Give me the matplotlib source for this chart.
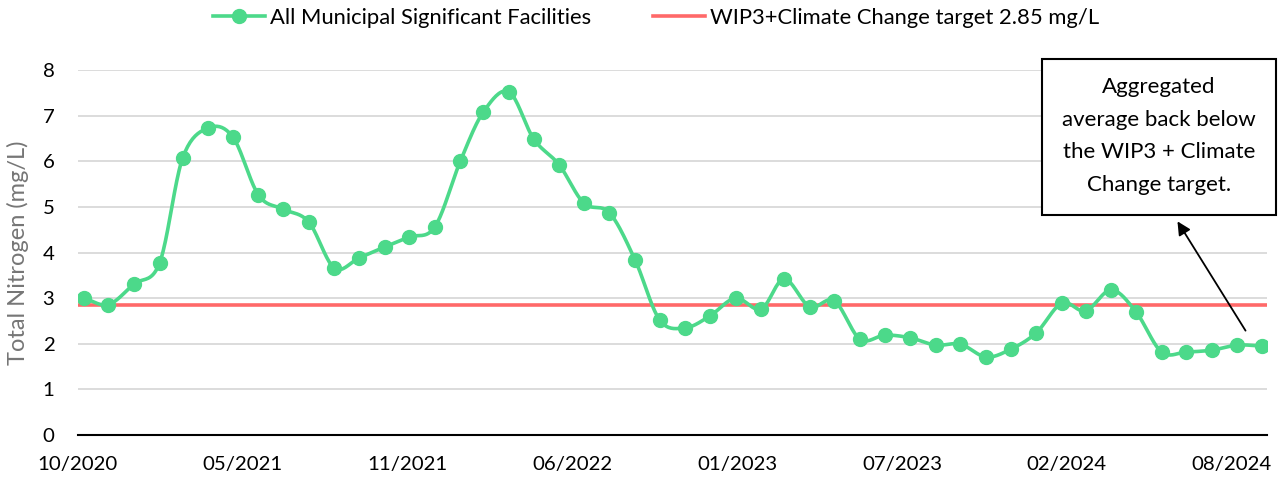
import numpy as np
import pandas as pd
import matplotlib
matplotlib.use("Agg")
import matplotlib.pyplot as plt
import matplotlib.dates as mdates
from matplotlib.patches import Rectangle

plt.rcParams['font.family'] = ['Lato', 'DejaVu Sans']

# monthly aggregated averages, month-end dates
dates = pd.date_range('2020-10-31', periods=48, freq='ME')
tn = [3.00, 2.86, 3.31, 3.77, 6.07, 6.73, 6.53, 5.26, 4.95, 4.67,
      3.66, 3.88, 4.12, 4.34, 4.56, 6.00, 7.08, 7.52, 6.49, 5.92,
      5.08, 4.87, 3.84, 2.52, 2.35, 2.61, 3.00, 2.76, 3.42, 2.81,
      2.94, 2.10, 2.19, 2.13, 1.97, 1.99, 1.71, 1.88, 2.24, 2.89,
      2.72, 3.18, 2.70, 1.82, 1.82, 1.86, 1.97, 1.95]
target = 2.85

series_label = 'All Municipal Significant Facilities'
target_label = 'WIP3+Climate Change target 2.85 mg/L'
note = 'Aggregated\naverage back below\nthe WIP3 + Climate\nChange target.'

green = '#4CD98A'
red = '#FF6969'


def smooth(x, y, n=20):
    # catmull-rom style smoothing, like the spreadsheet "smoothed line"
    x = np.asarray(x, float)
    y = np.asarray(y, float)
    px = np.concatenate([[2 * x[0] - x[1]], x, [2 * x[-1] - x[-2]]])
    py = np.concatenate([[2 * y[0] - y[1]], y, [2 * y[-1] - y[-2]]])
    xs, ys = [], []
    t = np.linspace(0, 1, n, endpoint=False)
    for i in range(1, len(px) - 2):
        p0, p1, p2, p3 = py[i - 1], py[i], py[i + 1], py[i + 2]
        q0, q1, q2, q3 = px[i - 1], px[i], px[i + 1], px[i + 2]
        ys.append(0.5 * ((2 * p1) + (-p0 + p2) * t + (2 * p0 - 5 * p1 + 4 * p2 - p3) * t ** 2
                         + (-p0 + 3 * p1 - 3 * p2 + p3) * t ** 3))
        xs.append(0.5 * ((2 * q1) + (-q0 + q2) * t + (2 * q0 - 5 * q1 + 4 * q2 - q3) * t ** 2
                         + (-q0 + 3 * q1 - 3 * q2 + q3) * t ** 3))
    xs.append([x[-1]])
    ys.append([y[-1]])
    return np.concatenate(xs), np.concatenate(ys)


W, H = 1278, 479
fig = plt.figure(figsize=(W / 100, H / 100), dpi=100)
ax = fig.add_axes([78 / W, 1 - 435 / H, (1267 - 78) / W, (435 - 70) / H])

xn = mdates.date2num(dates)
sx, sy = smooth(xn, tn)
ax.plot(sx, sy, color=green, lw=2.6, zorder=3, solid_capstyle='round')
ax.plot(xn, tn, 'o', color=green, ms=10, zorder=4)
ax.axhline(target, color=red, lw=2.6, zorder=2)

# legend proxies
h1, = ax.plot([], [], '-o', color=green, lw=2.6, ms=10)
h2, = ax.plot([], [], '-', color=red, lw=2.6)
fig.legend([h1, h2], [series_label, target_label], loc='center',
           bbox_to_anchor=(656 / W, 1 - 18 / H), ncol=2, frameon=False,
           fontsize=15.8, handlelength=2.36, columnspacing=2.8,
           handletextpad=0.25, borderpad=0, borderaxespad=0)

ax.set_ylim(0, 8)
ax.set_yticks(range(0, 9))
ax.set_xlim(pd.Timestamp('2020-10-24'), pd.Timestamp('2024-10-06'))
ax.set_xticks(pd.date_range('2020-10-24', periods=8, freq='200D'))
ax.xaxis.set_major_formatter(mdates.DateFormatter('%m/%Y'))
ax.grid(axis='y', color='#D9D9D9', lw=1.3)
ax.set_axisbelow(True)
for s in ['top', 'right', 'left']:
    ax.spines[s].set_visible(False)
ax.spines['bottom'].set_color('black')
ax.spines['bottom'].set_linewidth(1.5)
ax.tick_params(axis='both', length=0, labelsize=14.7)
ax.tick_params(axis='y', pad=17)
ax.tick_params(axis='x', pad=15)
ax.set_ylabel('Total Nitrogen (mg/L)', fontsize=17, color='#767676', labelpad=10)

# callout box with arrow
fig.add_artist(Rectangle((1042 / W, 1 - 215 / H), 234 / W, 156 / H,
                         transform=fig.transFigure, fc='white', ec='black',
                         lw=1.5, zorder=5))
fig.text(1159 / W, 1 - 136 / H, note, ha='center', va='center', fontsize=16,
         linespacing=1.8, zorder=6)
ax.annotate('', xy=(1176 / W, 1 - 219 / H), xycoords='figure fraction',
            xytext=(1247 / W, 1 - 333 / H), textcoords='figure fraction',
            arrowprops=dict(arrowstyle='-|>', color='black', lw=1.3,
                            mutation_scale=20))

fig.savefig('out.png', dpi=100)
